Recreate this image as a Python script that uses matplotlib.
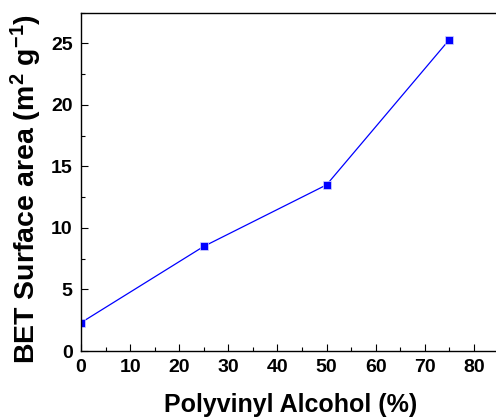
import matplotlib
matplotlib.use('Agg')
import matplotlib.pyplot as plt
from matplotlib.ticker import MultipleLocator

plt.rcParams['font.family'] = ['Liberation Sans', 'DejaVu Sans']
plt.rcParams['font.weight'] = 'bold'
plt.rcParams['mathtext.fontset'] = 'custom'
plt.rcParams['mathtext.rm'] = 'Liberation Sans:bold'
plt.rcParams['mathtext.default'] = 'rm'

# PVA content (%) vs BET surface area
pva_percent = [0, 25, 50, 75]
bet_area = [2.3, 8.5, 13.5, 25.3]

fig = plt.figure(figsize=(4.96, 4.19), dpi=100)
ax = fig.add_axes([81 / 496, 1 - 351 / 419, 1 - 81 / 496 + 0.01, (351 - 12.5) / 419])

ax.plot(pva_percent, bet_area, '-', color='#0000ff', linewidth=0.9,
        marker='s', markersize=6, markerfacecolor='#0000ff',
        markeredgecolor='#d8d8ff', markeredgewidth=0.5)

ax.set_xlim(0, 85.5)
ax.set_ylim(0, 27.5)
ax.xaxis.set_major_locator(MultipleLocator(10))
ax.xaxis.set_minor_locator(MultipleLocator(5))
ax.yaxis.set_major_locator(MultipleLocator(5))
ax.yaxis.set_minor_locator(MultipleLocator(2.5))
ax.tick_params(which='both', direction='in', top=False, right=False,
               width=0.8, labelsize=14, pad=6)
ax.tick_params(which='major', length=5)
ax.tick_params(which='minor', length=3)
for lbl in ax.get_xticklabels() + ax.get_yticklabels():
    lbl.set_fontweight('bold')

for side in ['left', 'bottom', 'top']:
    ax.spines[side].set_linewidth(1.0)
ax.spines['right'].set_visible(False)

ax.set_xlabel('Polyvinyl Alcohol (%)', fontsize=18, fontweight='bold', labelpad=12)
ax.set_ylabel(r'BET Surface area (m$^{2}$ g$^{-1}$)', fontsize=20.5, fontweight='bold')
ax.yaxis.set_label_coords(-0.087, 0.48)

fig.savefig('out.png', dpi=100)
